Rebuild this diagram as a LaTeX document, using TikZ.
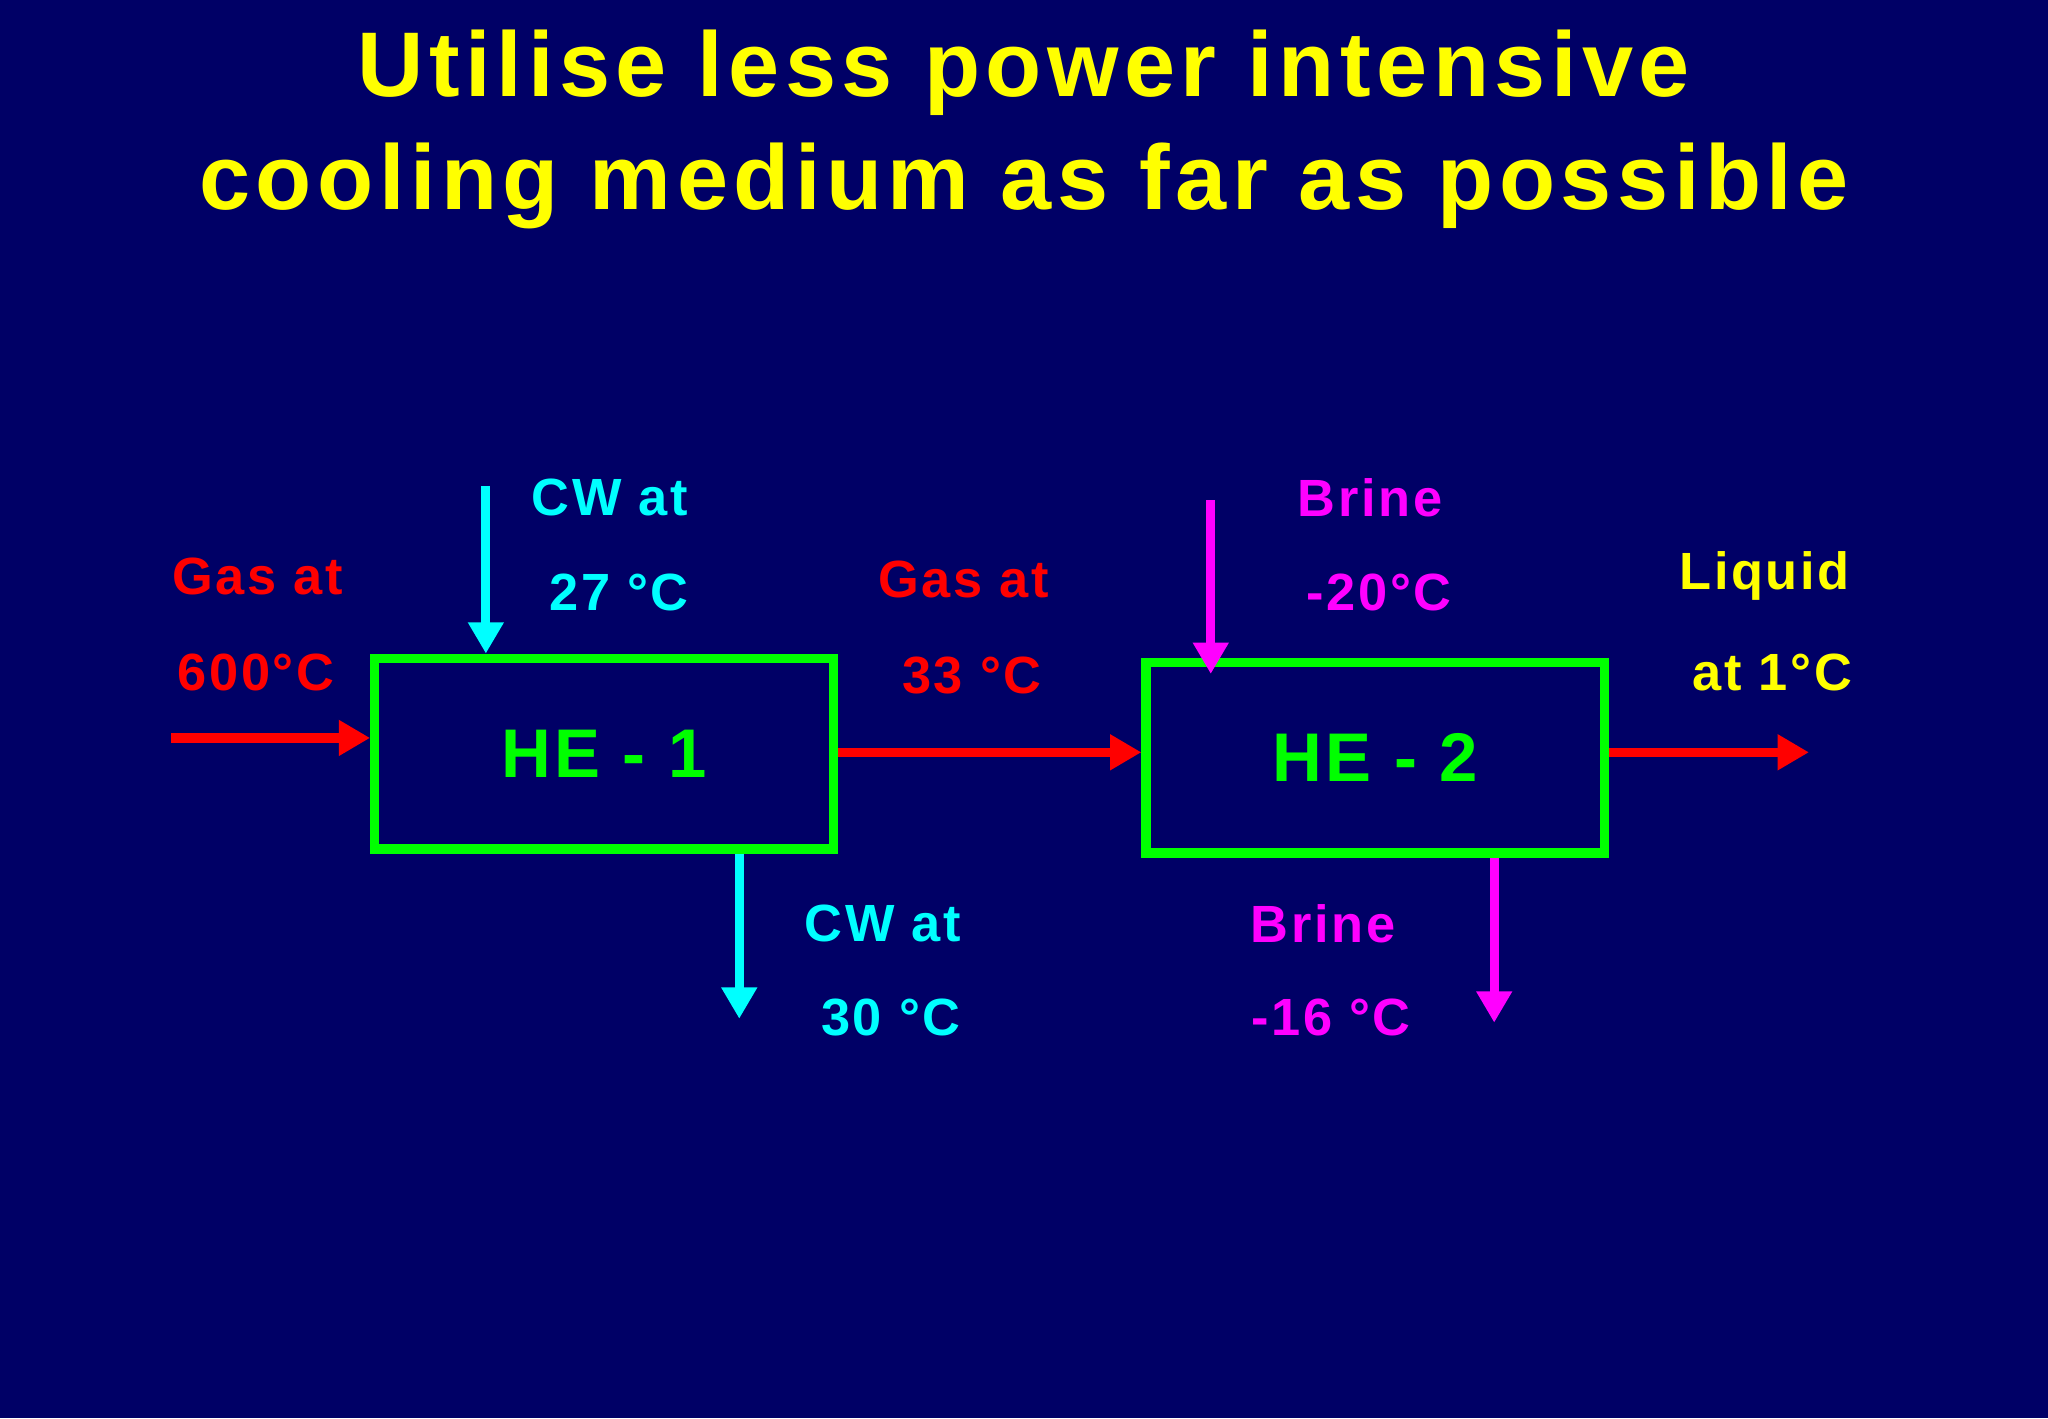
\documentclass[tikz,border=0pt]{standalone}
\usepackage{fontspec}
\setmainfont{Liberation Sans}
\usetikzlibrary{arrows.meta}
\definecolor{bg}{RGB}{0,0,102}
\definecolor{cy}{RGB}{0,255,255}
\definecolor{mg}{RGB}{255,0,255}
\definecolor{rd}{RGB}{255,0,0}
\definecolor{gr}{RGB}{0,255,0}
\definecolor{yl}{RGB}{255,255,0}
\tikzset{
 lbl/.style={font=\fontsize{11.4pt}{13pt}\selectfont\bfseries\addfontfeatures{LetterSpace=5}},
 box/.style={draw=gr, line width=2pt, minimum width=3.51cm, minimum height=1.46cm, font=\fontsize{15pt}{18pt}\selectfont\bfseries\addfontfeatures{LetterSpace=5}, text=gr},
 flow/.style={line width=2pt, -{Triangle[length=0.24cm,width=0.26cm]}}
}
\begin{document}
\begin{tikzpicture}[x=0.01cm,y=-0.01cm]
\fill[bg] (0,0) rectangle (1568,1086);
\useasboundingbox (0,0) rectangle (1568,1086);
\node[text=yl,align=center,font=\fontsize{20pt}{24.5pt}\selectfont\bfseries\addfontfeatures{LetterSpace=6}] (title) at (784,99) {Utilise less power intensive\\cooling medium as far as possible};
\node[box] (he1) at (462.5,577) {HE - 1};
\node[box] (he2) at (1053,580) {HE - 2};
\coordinate (a0) at (131,565);
\coordinate (a1) at (1385,576);
\coordinate (c1) at (372,372);
\coordinate (c2) at (566,780);
\coordinate (m1) at (927,383);
\coordinate (m2) at (1144,783);
\draw[flow,rd] (a0) -- (a0 -| he1.west);
\draw[flow,rd] (he1.east |- 0,576) -- (he2.west |- 0,576);
\draw[flow,rd] (he2.east |- a1) -- (a1);
\draw[flow,cy] (c1) -- (c1 |- he1.north);
\draw[flow,cy] (he1.south -| c2) -- (c2);
\draw[flow,mg] (m1) -- (927,516);
\draw[flow,mg] (he2.south -| m2) -- (m2);
\node[lbl,text=rd] (l1) at (197,441) {Gas at};
\node[lbl,text=rd] (l2) at (196,515) {600°C};
\node[lbl,text=cy] (l3) at (467,381) {CW at};
\node[lbl,text=cy] (l4) at (474,454) {27 °C};
\node[lbl,text=rd] (l5) at (738,444) {Gas at};
\node[lbl,text=rd] (l6) at (744,517) {33 °C};
\node[lbl,text=mg] (l7) at (1049,381) {Brine};
\node[lbl,text=mg] (l8) at (1056,454) {-20°C};
\node[lbl,text=yl] (l9) at (1351,441) {Liquid};
\node[lbl,text=yl] (l10) at (1357,515) {at 1°C};
\node[lbl,text=cy] (l11) at (676,707) {CW at};
\node[lbl,text=cy] (l12) at (682,779) {30 °C};
\node[lbl,text=mg] (l13) at (1013,707) {Brine};
\node[lbl,text=mg] (l14) at (1019,779) {-16 °C};
\end{tikzpicture}
\end{document}
